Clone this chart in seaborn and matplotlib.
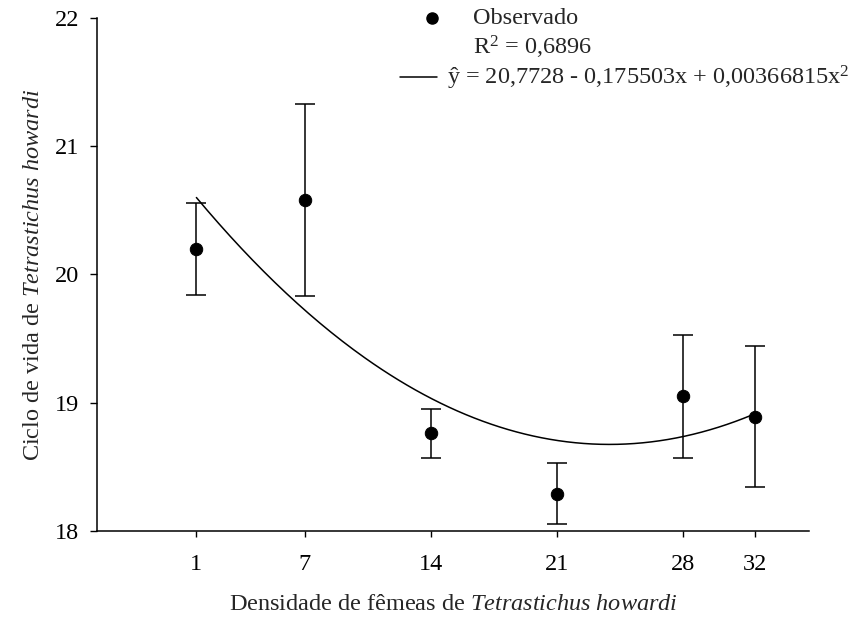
import numpy as np
import pandas as pd
import matplotlib
matplotlib.use("Agg")
import matplotlib.pyplot as plt
from matplotlib.lines import Line2D
import seaborn as sns

# ---- data ----
densidade = [1, 7, 14, 21, 28, 32]
ciclo = [20.20, 20.58, 18.76, 18.29, 19.05, 18.89]
erro = [0.36, 0.75, 0.19, 0.235, 0.48, 0.55]
coef = [20.7728, -0.175503, 0.00366815]   # fitted curve from the legend
x_ticks = [1, 7, 14, 21, 28, 32]
y_ticks = [18, 19, 20, 21, 22]

sns.set_style("ticks")
plt.rcParams["font.family"] = ["Liberation Serif", "DejaVu Serif"]
plt.rcParams["mathtext.fontset"] = "custom"
plt.rcParams["mathtext.rm"] = "Liberation Serif"
plt.rcParams["mathtext.it"] = "Liberation Serif:italic"

FS = 17.5
W, H = 865, 623
fig = plt.figure(figsize=(W / 100, H / 100), dpi=100)
ax = fig.add_axes([97.3 / W, 1 - 530.7 / H, (809 - 97.3) / W, (530.7 - 18.3) / H])

df = pd.DataFrame({"x": densidade, "y": ciclo, "e": erro})
xc = np.linspace(densidade[0], densidade[-1], 200)
yc = coef[0] + coef[1] * xc + coef[2] * xc ** 2
curve = pd.DataFrame({"x": xc, "y": yc})

sns.lineplot(data=curve, x="x", y="y", ax=ax, color="black", lw=1.1)
ax.errorbar(df["x"], df["y"], yerr=df["e"], fmt="none", ecolor="black",
            elinewidth=1.1, capsize=7, capthick=1.1)
sns.scatterplot(data=df, x="x", y="y", ax=ax, color="black", s=80,
                edgecolor="black", zorder=5)

ax.set_xlim(-4.5, 35)
ax.set_ylim(18, 22)
ax.set_xticks(x_ticks)
ax.set_yticks(y_ticks)
ax.tick_params(axis="both", labelsize=FS, direction="out", width=1,
               colors="black")
ax.tick_params(axis="x", length=4.5, pad=12)
ax.tick_params(axis="y", length=5, pad=8)
for s in ["top", "right"]:
    ax.spines[s].set_visible(False)
for s in ["left", "bottom"]:
    ax.spines[s].set_linewidth(1.1)
    ax.spines[s].set_color("black")

ax.set_xlabel(r"Densidade de fêmeas de $\it{Tetrastichus\ howardi}$",
              fontsize=FS, labelpad=14)
ax.set_ylabel(r"Ciclo de vida de $\it{Tetrastichus\ howardi}$",
              fontsize=FS, labelpad=8)

# legend block (positions in figure pixels)
def fx(px):
    return px / W

def fy(py):
    return 1 - py / H

fig.add_artist(Line2D([fx(432)], [fy(18)], marker="o", color="black",
                      markersize=8, ls="none"))
fig.text(fx(473), fy(18), "Observado", fontsize=FS, va="center", ha="left")
fig.text(fx(473), fy(47), r"R$^2$ = 0,6896", fontsize=FS, va="center", ha="left")
fig.add_artist(Line2D([fx(400), fx(437)], [fy(77), fy(77)], color="black", lw=1.1))
fig.text(fx(447), fy(78), r"ŷ = 20,7728 - 0,175503x + 0,00366815x$^2$",
         fontsize=FS, va="center", ha="left")

fig.savefig("out.png", dpi=100)
